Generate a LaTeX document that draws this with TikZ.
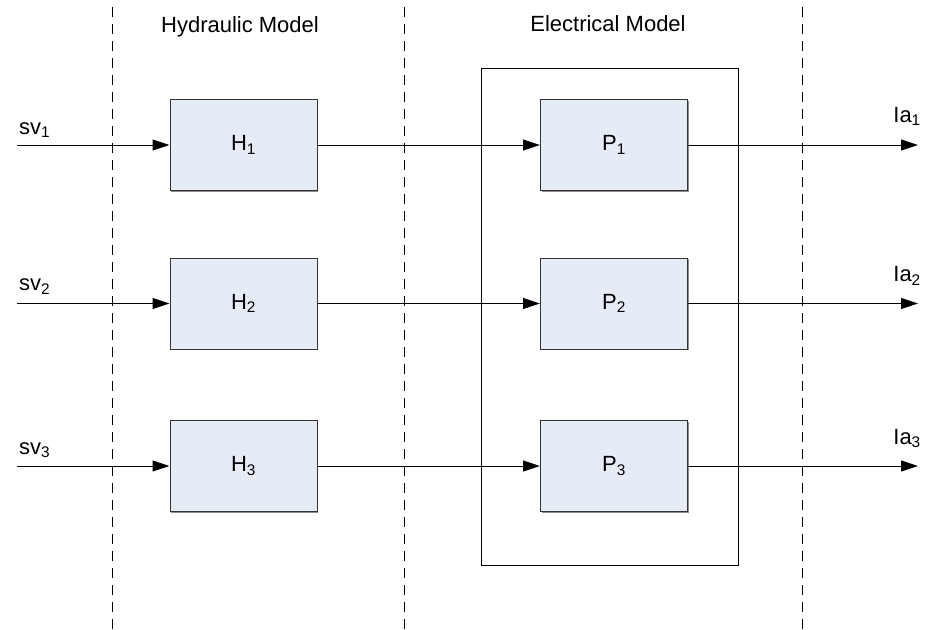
\documentclass[tikz,border=0pt]{standalone}
\usepackage{fontspec}
\setmainfont{Liberation Sans}
\usetikzlibrary{arrows.meta,positioning,shadows}
\definecolor{boxfill}{HTML}{E6ECF6}
\tikzset{
    block/.style={draw=black!80,line width=1pt,fill=boxfill,minimum width=147pt,minimum height=91pt,inner sep=0pt,
        drop shadow={shadow xshift=1.2pt,shadow yshift=-1.2pt,fill=black!45,opacity=1}},
    frame/.style={draw=black,line width=1pt,minimum width=257pt,minimum height=497pt,inner sep=0pt},
    sig/.style={-{Triangle[length=17pt,width=11pt]},line width=1pt},
    divider/.style={line width=0.9pt,dash pattern=on 10pt off 7pt},
    sublabel/.style={inner sep=0pt},
}
\tikzstyle{every node}=[font=\fontsize{22}{26}\selectfont]

\begin{document}
\begin{tikzpicture}[x=1pt,y=-1pt]
    \useasboundingbox (0,0) rectangle (926,629);
    % model borders
    \draw[divider] (112,7) -- (112,629);
    \draw[divider] (404,7) -- (404,629);
    \draw[divider] (802,7) -- (802,629);
    \node (hydtitle) at (240,27) {Hydraulic Model};
    \node (eltitle) at (608,24) {Electrical Model};
    % electrical frame
    \node[frame] (elframe) at (609.5,316.5) {};
    % blocks
    \node[block] (H1) at (243.5,145) {H\textsubscript{1}};
    \node[block] (H2) at (243.5,303.5) {H\textsubscript{2}};
    \node[block] (H3) at (243.5,466) {H\textsubscript{3}};
    \node[block] (P1) at (614,145) {P\textsubscript{1}};
    \node[block] (P2) at (614,303.5) {P\textsubscript{2}};
    \node[block] (P3) at (614,466) {P\textsubscript{3}};
    % inputs and outputs
    \coordinate (sv1) at (17,145);
    \coordinate (sv2) at (17,303.5);
    \coordinate (sv3) at (17,466);
    \coordinate (ia1) at (918,145);
    \coordinate (ia2) at (918,303.5);
    \coordinate (ia3) at (918,466);
    \node[sublabel,above right=7pt and 2pt of sv1] (svlab1) {sv\textsubscript{1}};
    \node[sublabel,above right=9pt and 2pt of sv2] (svlab2) {sv\textsubscript{2}};
    \node[sublabel,above right=8pt and 2pt of sv3] (svlab3) {sv\textsubscript{3}};
    \node[sublabel,above left=19pt and -3pt of ia1] (ialab1) {Ia\textsubscript{1}};
    \node[sublabel,above left=18pt and -3pt of ia2] (ialab2) {Ia\textsubscript{2}};
    \node[sublabel,above left=18pt and -3pt of ia3] (ialab3) {Ia\textsubscript{3}};
    % signals
    \draw[sig] (sv1) -- (H1);
    \draw[sig] (sv2) -- (H2);
    \draw[sig] (sv3) -- (H3);
    \draw[sig] (H1) -- (P1);
    \draw[sig] (H2) -- (P2);
    \draw[sig] (H3) -- (P3);
    \draw[sig] (P1) -- (ia1);
    \draw[sig] (P2) -- (ia2);
    \draw[sig] (P3) -- (ia3);
\end{tikzpicture}
\end{document}
